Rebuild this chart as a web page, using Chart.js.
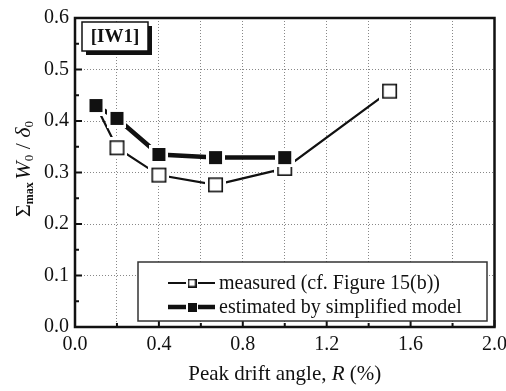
<!DOCTYPE html>
<html>
<head>
<meta charset="utf-8">
<script src="https://cdn.jsdelivr.net/npm/chart.js@4.4.1/dist/chart.umd.min.js"></script>
<style>
  html, body { margin: 0; padding: 0; background: #fff; }
  #wrap { width: 506px; height: 391px; }
</style>
</head>
<body>
<div id="wrap"><canvas id="driftChart" width="506" height="391"></canvas></div>
<script>
// peak drift angle R (%) and the two energy ratios
const driftAngle = [0.1, 0.2, 0.4, 0.67, 1.0, 1.5];
const measuredRatio = [0.43, 0.348, 0.295, 0.276, 0.308, 0.458];
const estimatedRatio = [0.43, 0.405, 0.335, 0.329, 0.329];
const seriesNames = ['measured (cf. Figure 15(b))', 'estimated by simplified model'];
const xTickLabels = ['0.0', '0.4', '0.8', '1.2', '1.6', '2.0'];
const yTickLabels = ['0.0', '0.1', '0.2', '0.3', '0.4', '0.5', '0.6'];
const panelTag = '[IW1]';

const SERIF = "'Liberation Serif', 'DejaVu Serif', serif";
const INK = '#111';

// square markers with a white margin so the lines stop short of them
function squareMarker(side, filled, halo) {
  const size = side + 2 * halo;
  const c = document.createElement('canvas');
  c.width = size; c.height = size;
  const g = c.getContext('2d');
  g.fillStyle = '#fff';
  g.fillRect(0, 0, size, size);
  if (filled) {
    g.fillStyle = INK;
    g.fillRect(halo, halo, side, side);
  } else {
    g.strokeStyle = INK;
    g.lineWidth = 1.6;
    g.strokeRect(halo + 0.8, halo + 0.8, side - 1.6, side - 1.6);
  }
  return c;
}
const openSquare = squareMarker(15, false, 3);
const solidSquare = squareMarker(13, true, 3);

function toPoints(xs, ys) {
  return ys.map((y, i) => ({ x: xs[i], y: y }));
}

// frame, inward ticks, tag box, legend and axis titles
const decorations = {
  id: 'decorations',
  afterDraw(chart) {
    const ctx = chart.ctx;
    const a = chart.chartArea;
    const xs = chart.scales.x, ys = chart.scales.y;
    ctx.save();

    // inward tick marks
    ctx.strokeStyle = INK;
    ctx.lineWidth = 2;
    ctx.beginPath();
    for (let i = 0; i <= 10; i++) {
      const px = xs.getPixelForValue(i * 0.2);
      const len = i % 2 === 0 ? 7 : 4;
      ctx.moveTo(px, a.bottom); ctx.lineTo(px, a.bottom - len);
    }
    for (let i = 0; i <= 12; i++) {
      const py = ys.getPixelForValue(i * 0.05);
      const len = i % 2 === 0 ? 7 : 4;
      ctx.moveTo(a.left, py); ctx.lineTo(a.left + len, py);
    }
    ctx.stroke();

    // plot frame
    ctx.lineWidth = 2.5;
    ctx.strokeRect(a.left, a.top, a.right - a.left, a.bottom - a.top);

    // [IW1] tag with drop shadow
    ctx.fillStyle = INK;
    ctx.fillRect(86, 26, 66, 29);
    ctx.fillStyle = '#fff';
    ctx.fillRect(82, 22, 66, 29);
    ctx.lineWidth = 1.5;
    ctx.strokeStyle = INK;
    ctx.strokeRect(82, 22, 66, 29);
    ctx.fillStyle = INK;
    ctx.font = 'bold 19px ' + SERIF;
    ctx.textAlign = 'center';
    ctx.textBaseline = 'middle';
    ctx.fillText(panelTag, 115, 37);

    // legend
    ctx.fillStyle = '#fff';
    ctx.fillRect(138, 262, 349, 59);
    ctx.strokeStyle = '#333';
    ctx.lineWidth = 1.5;
    ctx.strokeRect(138, 262, 349, 59);
    const rows = [
      { y: 283, width: 2.2, marker: chart.data.datasets[0].pointStyle },
      { y: 307, width: 4.5, marker: chart.data.datasets[1].pointStyle }
    ];
    rows.forEach((r, i) => {
      ctx.strokeStyle = INK;
      ctx.lineWidth = r.width;
      ctx.beginPath();
      ctx.moveTo(168, r.y); ctx.lineTo(186, r.y);
      ctx.moveTo(198, r.y); ctx.lineTo(215, r.y);
      ctx.stroke();
      const m = i === 0 ? squareMarker(9, false, 0) : squareMarker(9, true, 0);
      ctx.drawImage(m, 192 - m.width / 2, r.y - m.height / 2);
      ctx.fillStyle = INK;
      ctx.font = '20px ' + SERIF;
      ctx.textAlign = 'left';
      ctx.textBaseline = 'middle';
      ctx.fillText(chart.data.datasets[i].label, 219, r.y + 1);
    });

    // x axis title
    drawRuns(ctx, [
      { t: 'Peak drift angle, ', f: '21px ' + SERIF },
      { t: 'R', f: 'italic 21px ' + SERIF },
      { t: ' (%)', f: '21px ' + SERIF }
    ], (a.left + a.right) / 2, 374);

    // y axis title, rotated
    ctx.translate(24, 169);
    ctx.rotate(-Math.PI / 2);
    drawRuns(ctx, [
      { t: 'Σ', f: '22px ' + SERIF },
      { t: 'max', f: 'bold 12px ' + SERIF, dy: 6 },
      { t: ' ', f: '10px ' + SERIF },
      { t: 'W', f: 'italic 22px ' + SERIF },
      { t: '0', f: '13px ' + SERIF, dy: 6 },
      { t: ' / ', f: '22px ' + SERIF },
      { t: 'δ', f: 'italic 22px ' + SERIF },
      { t: '0', f: '13px ' + SERIF, dy: 6 }
    ], 0, 0);

    ctx.restore();
  }
};

// draw mixed-font text runs centred on (cx, cy)
function drawRuns(ctx, runs, cx, cy) {
  let total = 0;
  runs.forEach(r => { ctx.font = r.f; r.w = ctx.measureText(r.t).width; total += r.w; });
  let x = cx - total / 2;
  ctx.fillStyle = INK;
  ctx.textAlign = 'left';
  ctx.textBaseline = 'middle';
  runs.forEach(r => {
    ctx.font = r.f;
    ctx.fillText(r.t, x, cy + (r.dy || 0));
    x += r.w;
  });
}

const gridStyle = { color: '#888', lineWidth: 1, drawTicks: false };

new Chart(document.getElementById('driftChart'), {
  type: 'line',
  data: {
    datasets: [
      {
        label: seriesNames[0],
        data: toPoints(driftAngle, measuredRatio),
        borderColor: INK,
        borderWidth: 2.2,
        pointStyle: openSquare,
        pointRadius: 7,
        order: 1
      },
      {
        label: seriesNames[1],
        data: toPoints(driftAngle, estimatedRatio),
        borderColor: INK,
        borderWidth: 4.5,
        pointStyle: solidSquare,
        pointRadius: 7,
        order: 0
      }
    ]
  },
  options: {
    responsive: false,
    animation: false,
    layout: { padding: { left: 0, top: 15, right: 11, bottom: 0 } },
    plugins: { legend: { display: false }, tooltip: { enabled: false } },
    scales: {
      x: {
        type: 'linear',
        min: 0, max: 2,
        grid: gridStyle,
        border: { display: false, dash: [1, 2] },
        ticks: {
          stepSize: 0.2,
          autoSkip: false,
          maxRotation: 0,
          padding: 6,
          color: INK,
          font: { family: SERIF, size: 20 },
          callback: v => {
            const k = Math.round(v / 0.4 * 1000) / 1000;
            return Number.isInteger(k) ? xTickLabels[k] : '';
          }
        },
        afterFit: s => { s.height = 64; s.paddingLeft = 0; s.paddingRight = 0; }
      },
      y: {
        min: 0, max: 0.6,
        grid: gridStyle,
        border: { display: false, dash: [1, 2] },
        ticks: {
          stepSize: 0.1,
          padding: 6,
          color: INK,
          font: { family: SERIF, size: 20 },
          callback: v => yTickLabels[Math.round(v * 10)]
        },
        afterFit: s => { s.width = 75; }
      }
    }
  },
  plugins: [decorations]
});
</script>
</body>
</html>
